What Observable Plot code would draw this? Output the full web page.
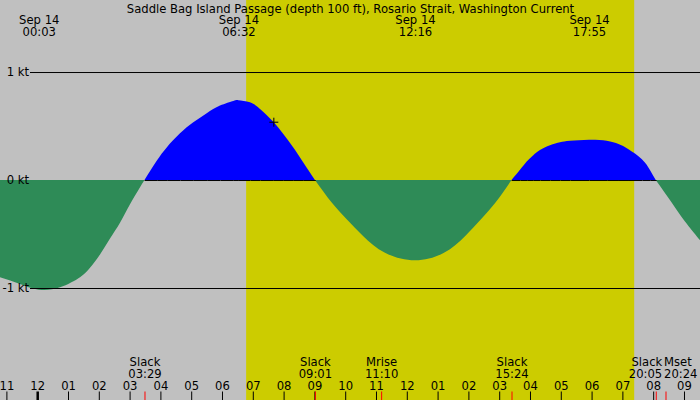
<!DOCTYPE html>
<html><head><meta charset="utf-8">
<script src="https://cdn.jsdelivr.net/npm/d3@7"></script>
<script src="https://cdn.jsdelivr.net/npm/@observablehq/plot@0.6"></script>
<style>html,body{margin:0;padding:0;background:#c0c0c0;overflow:hidden}</style>
</head><body><div id="chart"></div>
<script>
// ---- data ----
const title = "Saddle Bag Island Passage (depth 100 ft), Rosario Strait, Washington Current";
const dateLabel = "Sep 14";
// current speed (kt) read at decimal hours of Sep 14 (0 = slack)
const sampleHours = [
  -1.208, -0.558, 0.05, 0.74, 1.39, 1.714, 2.039, 2.364, 2.688, 3.013, 3.30, 3.483,
  3.88, 4.205, 4.636, 5.068, 5.503, 5.935, 6.367, 6.533, 6.909, 7.234, 7.666, 7.99, 8.315, 8.64, 9.017,
  9.562, 10.049, 10.588, 11.292, 12.267, 13.208, 13.89, 14.409, 14.88, 15.4,
  15.675, 15.893, 16.107, 16.325, 16.649, 16.974, 17.299, 17.917, 18.49, 18.873, 19.198, 19.633, 19.89, 20.083,
  20.6, 20.977, 21.412, 21.52
];
const sampleKnots = [
  -0.901, -0.962, -1.015, -0.994, -0.901, -0.813, -0.69, -0.541, -0.395, -0.225, -0.085, 0,
  0.178, 0.302, 0.432, 0.534, 0.618, 0.689, 0.732, 0.739, 0.72, 0.658, 0.54, 0.426, 0.302, 0.163, 0,
  -0.209, -0.364, -0.52, -0.674, -0.743, -0.674, -0.52, -0.364, -0.209, 0,
  0.094, 0.172, 0.23, 0.277, 0.321, 0.349, 0.363, 0.373, 0.363, 0.333, 0.286, 0.193, 0.095, 0,
  -0.209, -0.364, -0.52, -0.555
];
const maxTimes = ["00:03", "06:32", "12:16", "17:55"];
const eventNames = ["Slack", "Slack", "Mrise", "Slack", "Slack", "Mset"];
const eventTimes = ["03:29", "09:01", "11:10", "15:24", "20:05", "20:24"];
const sunrise = "06:47";
const sunset = "19:23";
const nowTime = "07:40";
const nowKnots = 0.54;
const hourTicks = [-1,0,1,2,3,4,5,6,7,8,9,10,11,12,13,14,15,16,17,18,19,20,21];
const hourLabels = ["11","12","01","02","03","04","05","06","07","08","09","10","11","12","01","02","03","04","05","06","07","08","09"];
const ktTicks = [-1, 0, 1];
const ktLabels = ["-1 kt", "0 kt", "1 kt"];
const viewHours = [-1.208, 21.52];
const viewKnots = [-2.037, 1.667];

// ---- build ----
const toHours = s => { const [h, m] = s.split(":").map(Number); return h + m / 60; };
const rows = sampleHours.map((t, i) => ({t, v: sampleKnots[i]}));
const segs = []; let cur = [];
rows.forEach(r => { cur.push(r); if (r.v === 0 && cur.length > 1) { segs.push(cur); cur = [r]; } });
if (cur.length > 1) segs.push(cur);
const areaRows = segs.flatMap((s, k) => {
  const dir = s.some(r => r.v > 0) ? "flood" : "ebb";
  return s.map(r => ({...r, seg: k, dir}));
});
const floodRows = areaRows.filter(d => d.dir === "flood");
const ebbRows = areaRows.filter(d => d.dir === "ebb");
const events = eventNames.map((n, i) => ({name: n, t: toHours(eventTimes[i]), time: eventTimes[i], i}));
const lastPair = events.slice(-2);
const mainEvents = events.slice(0, -2);
const font = "DejaVu Sans";
const fs = 11.6;
const ebbColor = "#2e8b57";
const floodColor = "#0000ff";

const plot = Plot.plot({
  width: 700, height: 400,
  margin: 0,
  x: {domain: viewHours, axis: null},
  y: {domain: viewKnots, axis: null},
  style: {background: "#c0c0c0", fontFamily: font, fontSize: fs + "px", color: "black"},
  marks: [
    Plot.frame({fill: "#c0c0c0", stroke: "none"}),
    Plot.rect([{start: toHours(sunrise), end: toHours(sunset)}], {x1: "start", x2: "end", fill: "#cccc00"}),
    Plot.areaY(floodRows, {x: "t", y1: 0, y2: "v", z: "seg", fill: floodColor, curve: "natural"}),
    Plot.areaY(ebbRows, {x: "t", y1: 0, y2: "v", z: "seg", fill: ebbColor, curve: "natural"}),
    Plot.line(floodRows, {x: "t", y: 0, z: "seg", stroke: "black", strokeWidth: 1}),
    Plot.ruleY(ktTicks.filter(k => k !== 0), {stroke: "black", insetLeft: 30}),
    Plot.dot([{t: toHours(nowTime), v: nowKnots}], {x: "t", y: "v", symbol: "plus", r: 3, stroke: "black", fill: "none", strokeWidth: 1}),
    Plot.text([title], {frameAnchor: "top", lineAnchor: "bottom", dy: 12, fontSize: fs, fill: "black"}),
    Plot.text(maxTimes, {x: d => toHours(d), text: d => dateLabel + "\n" + d, frameAnchor: "top", lineAnchor: "bottom", lineHeight: 1.05, dy: 35.5, fontSize: fs, fill: "black"}),
    Plot.text(ktTicks, {y: d => d, text: (d, i) => ktLabels[i], frameAnchor: "left", textAnchor: "end", lineAnchor: "middle", dx: 28.5, fontSize: fs, fill: "black"}),
    Plot.text(mainEvents, {x: "t", text: d => d.name + "\n" + d.time, frameAnchor: "bottom", lineAnchor: "bottom", lineHeight: 1.02, dy: -22.3, fontSize: fs, fill: "black"}),
    Plot.text(lastPair.slice(0, 1), {x: "t", text: d => d.name + "\n" + d.time, frameAnchor: "bottom", lineAnchor: "bottom", lineHeight: 1.02, dy: -22.3, textAnchor: "end", dx: 6, fontSize: fs, fill: "black"}),
    Plot.text(lastPair.slice(1), {x: "t", text: d => d.name + "\n" + d.time, frameAnchor: "bottom", lineAnchor: "bottom", lineHeight: 1.02, dy: -22.3, textAnchor: "start", dx: -2, fontSize: fs, fill: "black"}),
    Plot.text(hourTicks, {x: d => d, text: (d, i) => hourLabels[i], frameAnchor: "bottom", lineAnchor: "bottom", dy: -10.7, fontSize: fs, fill: "black"}),
    Plot.ruleX(hourTicks.filter(h => h % 24 !== 0), {x: d => d, insetTop: 391.5, stroke: "black", strokeWidth: 1}),
    Plot.ruleX(hourTicks.filter(h => h % 24 === 0), {x: d => d, insetTop: 391.5, stroke: "black", strokeWidth: 2.5}),
    Plot.ruleX(events, {x: "t", insetTop: 391.5, stroke: "red", strokeWidth: 1})
  ]
});
document.getElementById("chart").appendChild(plot);
</script>
</body></html>
